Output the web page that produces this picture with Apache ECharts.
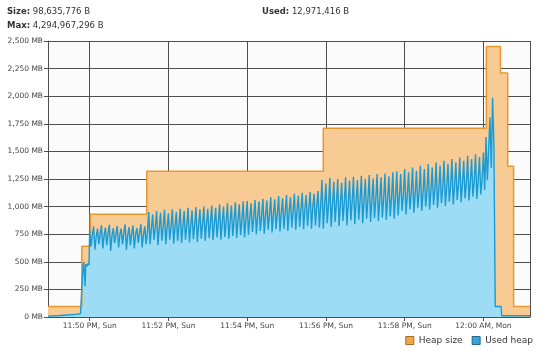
<!DOCTYPE html>
<html><head><meta charset="utf-8">
<script src="https://cdn.jsdelivr.net/npm/echarts@6/dist/echarts.min.js"></script>
<style>html,body{margin:0;padding:0;background:#fff}#c{width:540px;height:351px}</style>
</head><body><div id="c"></div>
<script>
// Time reference: 11:50 PM, Sunday
const baseTime = new Date(2024, 0, 7, 23, 50, 0).getTime();
const axisStartSec = -63.5;
const axisEndSec = 671;

// Header texts
const sizeText = '98,635,776 B';
const maxText = '4,294,967,296 B';
const usedText = '12,971,416 B';

// Heap size (MB), step changes, seconds from 11:50 PM
const heapSec = [-63.5, -12, 1, 87, 356, 604.5, 626, 637, 646, 671];
const heapMB = [94, 640, 930, 1320, 1710, 2450, 2210, 1365, 94, 94];

// Used heap (MB): lead-in before 11:50 PM
const usedLeadSec = [-63.5, -45, -25, -14, -10, -9, -7, -6, -4, -2, -1];
const usedLeadMB = [8, 14, 22, 30, 470, 500, 280, 480, 460, 490, 470];

// Used heap (MB): samples every 2 s from 11:50:00 (peak, low, mid per GC cycle)
const usedSampleStartSec = 0;
const usedSampleStepSec = 2;
const usedSampledMB = [
  790,640,740, 820,610,730, 800,660,750, 830,620,740, 810,650,760,
  835,600,735, 805,670,750, 825,630,745, 800,660,760, 840,610,740,
  815,650,755, 830,620,750, 805,670,765, 840,630,750, 820,660,770,
  950,660,800, 930,700,810, 960,650,805, 945,690,815, 970,660,810,
  940,700,820, 975,665,815, 950,690,825, 980,670,820, 960,700,830,
  990,675,825, 965,705,835, 995,680,830, 975,710,840, 1000,690,845,
  980,715,850, 1010,695,845, 990,720,855, 1020,700,860, 1000,725,865,
  1030,710,860, 1010,735,870, 1040,715,875, 1020,740,880, 1045,720,885,
  1050,745,900, 1030,770,905, 1060,750,910, 1045,780,915, 1070,755,920,
  1055,790,930, 1085,765,935, 1065,795,940, 1095,775,945, 1075,800,955,
  1105,780,960, 1085,810,965, 1115,790,970, 1100,815,980, 1125,795,985,
  1105,825,990, 1135,800,995, 1115,830,1000, 1140,810,1005,
  1240,800,1010, 1210,850,1020, 1260,815,1015, 1225,860,1030, 1250,825,1025,
  1215,870,1035, 1265,830,1030, 1235,875,1045, 1270,840,1040, 1240,880,1050,
  1280,850,1045, 1250,890,1060, 1285,860,1055, 1255,895,1065, 1295,870,1060,
  1265,900,1075, 1300,880,1070, 1275,910,1080, 1310,890,1085,
  1320,920,1100, 1295,960,1110, 1340,930,1105, 1310,975,1120, 1355,945,1115,
  1325,990,1130, 1370,960,1125, 1340,1000,1140, 1385,975,1140, 1355,1015,1150,
  1400,990,1155, 1370,1030,1165, 1415,1005,1170, 1385,1045,1180, 1430,1020,1185,
  1400,1060,1195, 1445,1040,1200, 1415,1075,1210, 1460,1055,1215, 1430,1090,1225,
  1475,1070,1230, 1450,1110,1240
];

// Used heap (MB): final spike and collapse
const usedTailSec = [600, 602, 604, 606, 608, 610, 612, 614, 616, 618, 627, 628, 671];
const usedTailMB = [1490, 1150, 1630, 1240, 1520, 1810, 1350, 1985, 1550, 95, 95, 12, 12];

const toMs = s => baseTime + s * 1000;
const heapData = heapSec.map((s, i) => [toMs(s), heapMB[i]]);
const usedData = [];
usedLeadSec.forEach((s, i) => usedData.push([toMs(s), usedLeadMB[i]]));
usedSampledMB.forEach((v, i) => usedData.push([toMs(usedSampleStartSec + i * usedSampleStepSec), v]));
usedTailSec.forEach((s, i) => usedData.push([toMs(s), usedTailMB[i]]));

const FONT = 'DejaVu Sans';
const DAYS = ['Sun', 'Mon', 'Tue', 'Wed', 'Thu', 'Fri', 'Sat'];
const pad = n => (n < 10 ? '0' : '') + n;
function fmtTime(v) {
  const d = new Date(v);
  let h = d.getHours();
  const ap = h >= 12 ? 'PM' : 'AM';
  h = h % 12 || 12;
  return h + ':' + pad(d.getMinutes()) + ' ' + ap + ', ' + DAYS[d.getDay()];
}
const gridColor = '#4e4e4e';
const titleStyle = {
  fontFamily: FONT, fontSize: 8.5, color: '#333', fontWeight: 'normal',
  rich: { b: { fontFamily: FONT, fontSize: 8.5, color: '#333', fontWeight: 'bold' } }
};

const chart = echarts.init(document.getElementById('c'), null, { renderer: 'canvas' });
chart.setOption({
  animation: false,
  backgroundColor: '#ffffff',
  title: [
    { left: 7, top: 7, padding: 0, text: '{b|Size:} ' + sizeText, textStyle: titleStyle },
    { left: 7, top: 21, padding: 0, text: '{b|Max:} ' + maxText, textStyle: titleStyle },
    { left: 262, top: 7, padding: 0, text: '{b|Used:} ' + usedText, textStyle: titleStyle }
  ],
  legend: {
    right: 7, top: 336, itemWidth: 8, itemHeight: 8, itemGap: 9, icon: 'rect', padding: 0,
    textStyle: { fontFamily: FONT, fontSize: 9, color: '#333' },
    data: [
      { name: 'Heap size', itemStyle: { color: '#f0a64a', borderColor: '#a86c22', borderWidth: 1 } },
      { name: 'Used heap', itemStyle: { color: '#37a6d6', borderColor: '#1d6a91', borderWidth: 1 } }
    ]
  },
  grid: { left: 48, right: 10, top: 41, bottom: 34, show: true, backgroundColor: '#fbfbfb', borderWidth: 0 },
  xAxis: {
    type: 'time',
    min: toMs(axisStartSec), max: toMs(axisEndSec),
    splitNumber: 6,
    axisLine: { show: true, lineStyle: { color: gridColor, width: 1 } },
    axisTick: { show: true, length: 4, lineStyle: { color: gridColor } },
    splitLine: { show: true, lineStyle: { color: gridColor, width: 1 } },
    axisLabel: { formatter: fmtTime, fontFamily: FONT, fontSize: 7.5, color: '#444', margin: 5 }
  },
  yAxis: {
    type: 'value', min: 0, max: 2500, interval: 250,
    axisLine: { show: true, lineStyle: { color: gridColor, width: 1 } },
    axisTick: { show: true, length: 4, lineStyle: { color: gridColor } },
    splitLine: { show: true, lineStyle: { color: gridColor, width: 1 } },
    axisLabel: { formatter: v => v.toLocaleString('en-US') + ' MB', fontFamily: FONT, fontSize: 7.5, color: '#444', margin: 5 }
  },
  series: [
    {
      name: 'Heap size', type: 'line', step: 'end', data: heapData, showSymbol: false,
      lineStyle: { color: '#e8982f', width: 1.5 },
      itemStyle: { color: '#f0a64a' },
      areaStyle: { color: '#f8ca94', opacity: 1 }
    },
    {
      name: 'Used heap', type: 'line', data: usedData, showSymbol: false,
      lineStyle: { color: '#1c9ad2', width: 1.4 },
      itemStyle: { color: '#37a6d6' },
      areaStyle: { color: '#9cdcf4', opacity: 1 }
    }
  ]
});
</script></body></html>
